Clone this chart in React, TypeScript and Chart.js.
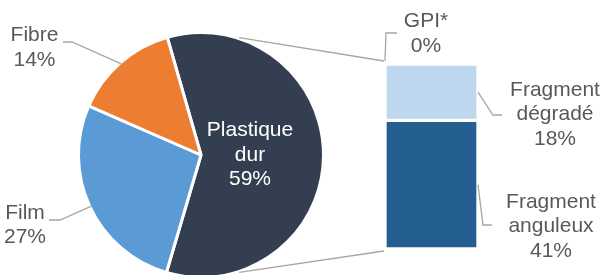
import React, { useEffect, useRef } from "react";
import { Chart, registerables } from "chart.js";

Chart.register(...registerables);

const pieCategories = ["Plastique dur", "Film", "Fibre"];
const pieValues = [59, 27, 14];
const pieColors = ["#333F50", "#5B9BD5", "#ED7D31"];

const barCategories = ["Fragment anguleux", "Fragment dégradé", "GPI*"];
const barValues = [41, 18, 0];
const barColors = ["#255E91", "#BDD7EE", "#A5A5A5"];

const W = 603;
const H = 275;
const FONT = '21px "Liberation Sans", Arial, sans-serif';
const TEXT = "#595959";
const LEADER = "#A6A6A6";
const LINE_H = 24.5;

function drawLines(ctx: CanvasRenderingContext2D, lines: string[], x: number, y0: number, color: string) {
  ctx.save();
  ctx.font = FONT;
  ctx.fillStyle = color;
  ctx.textAlign = "center";
  ctx.textBaseline = "middle";
  lines.forEach((l, i) => ctx.fillText(l, x, y0 + i * LINE_H));
  ctx.restore();
}

function poly(ctx: CanvasRenderingContext2D, pts: number[][], color: string) {
  ctx.save();
  ctx.strokeStyle = color;
  ctx.lineWidth = 1.3;
  ctx.beginPath();
  pts.forEach((p, i) => (i === 0 ? ctx.moveTo(p[0], p[1]) : ctx.lineTo(p[0], p[1])));
  ctx.stroke();
  ctx.restore();
}

export default function App() {
  const pieRef = useRef<HTMLCanvasElement>(null);
  const barRef = useRef<HTMLCanvasElement>(null);

  useEffect(() => {
    document.body.style.margin = "0";
    const pieLabelPlugin = {
      id: "pieLabels",
      afterDraw(chart: any) {
        const ctx = chart.ctx;
        const arcs = chart.getDatasetMeta(0).data;
        arcs.forEach((arc: any, i: number) => {
          const lines = [...pieCategories[i].split(" "), `${pieValues[i]}%`];
          const mid = (arc.startAngle + arc.endAngle) / 2;
          const R = arc.outerRadius - 1.5;
          const ex = arc.x + Math.cos(mid) * R;
          const ey = arc.y + Math.sin(mid) * R;
          if (i === 0) {
            const r = arc.outerRadius * 0.4;
            const cx = arc.x + Math.cos(mid) * r;
            const cy = arc.y + Math.sin(mid) * r;
            drawLines(ctx, lines, cx, cy - LINE_H, "#FFFFFF");
          } else if (i === 1) {
            drawLines(ctx, lines, 25, 213, TEXT);
            poly(ctx, [[49, 220], [60, 220], [ex, ey]], LEADER);
          } else {
            drawLines(ctx, lines, 34.5, 35.5, TEXT);
            poly(ctx, [[63, 42], [72, 42], [ex, ey]], LEADER);
          }
        });
      },
    };

    const pie = new Chart(pieRef.current!, {
      type: "pie",
      data: {
        labels: pieCategories,
        datasets: [
          {
            data: pieValues,
            backgroundColor: pieColors,
            borderColor: "#FFFFFF",
            borderWidth: 3,
          },
        ],
      },
      options: {
        responsive: false,
        animation: false,
        devicePixelRatio: 1,
        rotation: -16,
        radius: 122.5,
        layout: { padding: { left: 0, right: 201, top: 35, bottom: 0 } },
        plugins: { legend: { display: false }, tooltip: { enabled: false } },
      } as any,
      plugins: [pieLabelPlugin],
    });

    const barLabelPlugin = {
      id: "barLabels",
      afterDraw(chart: any) {
        const ctx = chart.ctx;
        const bars = barValues.map((_, i) => chart.getDatasetMeta(i).data[0]);
        const left = bars[0].x - bars[0].width / 2 + 2;
        const right = bars[0].x + bars[0].width / 2 - 2;
        const top = chart.scales.y.getPixelForValue(barValues.reduce((a, b) => a + b, 0));
        const bottom = chart.scales.y.getPixelForValue(0);
        // connectors to pie
        const arc: any = pie.getDatasetMeta(0).data[0];
        const R = arc.outerRadius + 1;
        const a1 = -Math.PI / 2 + (18 * Math.PI) / 180;
        const a2 = Math.PI / 2 - (18 * Math.PI) / 180;
        poly(ctx, [[arc.x + Math.cos(a1) * R, arc.y + Math.sin(a1) * R], [left - 3, top - 3]], LEADER);
        poly(ctx, [[arc.x + Math.cos(a2) * R, arc.y + Math.sin(a2) * R], [left - 3, bottom + 2]], LEADER);

        // Fragment anguleux
        {
          const b = bars[0];
          const my = (b.y + b.base) / 2;
          poly(ctx, [[right + 2, my], [right + 7, 225], [right + 16, 225]], LEADER);
          drawLines(ctx, [...barCategories[0].split(" "), `${barValues[0]}%`], 551, 202, TEXT);
        }
        // Fragment dégradé
        {
          const b = bars[1];
          const my = (b.y + b.base) / 2;
          poly(ctx, [[right + 2, my], [right + 17, 115], [right + 26, 115]], LEADER);
          drawLines(ctx, [...barCategories[1].split(" "), `${barValues[1]}%`], 555, 90, TEXT);
        }
        // GPI*
        {
          const b = bars[2];
          poly(ctx, [[left - 2, b.y - 3], [left - 1, 33], [left + 10, 33]], LEADER);
          drawLines(ctx, [...barCategories[2].split(" "), `${barValues[2]}%`], 426, 21.5, TEXT);
        }
      },
    };

    const bar = new Chart(barRef.current!, {
      type: "bar",
      data: {
        labels: [""],
        datasets: barCategories.map((c, i) => ({
          label: c,
          data: [barValues[i]],
          backgroundColor: barColors[i],
          borderColor: "#FFFFFF",
          borderWidth: 2,
          borderSkipped: false,
          barPercentage: 1,
          categoryPercentage: 1,
        })),
      },
      options: {
        responsive: false,
        animation: false,
        devicePixelRatio: 1,
        layout: { padding: { left: 385, right: W - 478, top: 64, bottom: H - 249 } },
        scales: {
          x: { display: false, stacked: true },
          y: { display: false, stacked: true, min: 0, max: barValues.reduce((a, b) => a + b, 0) },
        },
        plugins: { legend: { display: false }, tooltip: { enabled: false } },
      } as any,
      plugins: [barLabelPlugin],
    });

    return () => {
      bar.destroy();
      pie.destroy();
    };
  }, []);

  return (
    <div style={{ position: "relative", width: W, height: H, background: "#FFFFFF" }}>
      <canvas ref={pieRef} width={W} height={H} style={{ position: "absolute", left: 0, top: 0 }} />
      <canvas ref={barRef} width={W} height={H} style={{ position: "absolute", left: 0, top: 0 }} />
    </div>
  );
}
